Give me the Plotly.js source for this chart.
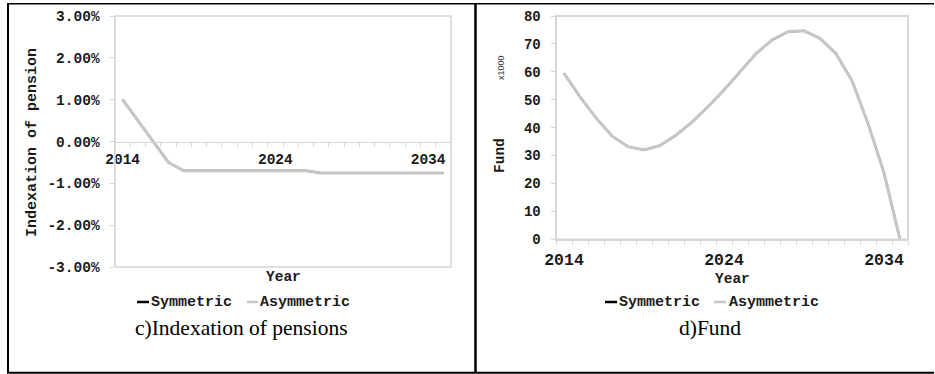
<!DOCTYPE html>
<html>
<head>
<meta charset="utf-8">
<script src="https://cdn.plot.ly/plotly-3.0.1.min.js"></script>
<style>html,body{margin:0;padding:0;background:#fff;}#chart{width:935px;height:374px;}</style>
</head>
<body>
<div id="chart"></div>
<script>
// ---- data ----
const years = [2014,2015,2016,2017,2018,2019,2020,2021,2022,2023,2024,2025,2026,2027,2028,2029,2030,2031,2032,2033,2034,2035];
const indexSymmetric  = [0.0100,0.0050,0.0000,-0.0050,-0.0070,-0.0070,-0.0070,-0.0070,-0.0070,-0.0070,-0.0070,-0.0070,-0.0070,-0.0075,-0.0075,-0.0075,-0.0075,-0.0075,-0.0075,-0.0075,-0.0075,-0.0075];
const indexAsymmetric = [0.0100,0.0050,0.0000,-0.0050,-0.0070,-0.0070,-0.0070,-0.0070,-0.0070,-0.0070,-0.0070,-0.0070,-0.0070,-0.0075,-0.0075,-0.0075,-0.0075,-0.0075,-0.0075,-0.0075,-0.0075,-0.0075];
const fundSymmetric  = [59.5,51.0,43.5,37.0,33.2,32.0,33.6,37.3,42.0,47.5,53.5,60.0,66.5,71.4,74.4,74.7,72.0,66.5,56.8,41.5,23.8,0.0];
const fundAsymmetric = [59.5,51.0,43.5,37.0,33.2,32.0,33.6,37.3,42.0,47.5,53.5,60.0,66.5,71.4,74.4,74.7,72.0,66.5,56.8,41.5,23.8,0.0];
const xTickVals = [2014,2024,2034];
const xTickText = ['2014','2024','2034'];
const idxTickVals = [-0.03,-0.02,-0.01,0,0.01,0.02,0.03];
const idxTickText = ['-3.00%','-2.00%','-1.00%','0.00%','1.00%','2.00%','3.00%'];
const fundTickVals = [0,10,20,30,40,50,60,70,80];
const seriesNames = ['Symmetric','Asymmetric'];

// ---- styling ----
const W = 935, H = 374;
const px = v => v / W, py = v => 1 - v / H;
const MONO = 'Liberation Mono, Courier New, monospace';
const SERIF = 'Liberation Serif, Times New Roman, serif';
const TXT = '#1a1a1a';
const AX = '#d6d6d6';
const GRAY = '#c6c6c6';

const traces = [
  {x: years, y: indexSymmetric, name: seriesNames[0], type: 'scatter', mode: 'lines', xaxis: 'x', yaxis: 'y', line: {color: '#000', width: 2}, showlegend: false},
  {x: years, y: indexAsymmetric, name: seriesNames[1], type: 'scatter', mode: 'lines', xaxis: 'x', yaxis: 'y', line: {color: GRAY, width: 3}, showlegend: false},
  {x: years, y: fundSymmetric, name: seriesNames[0], type: 'scatter', mode: 'lines', xaxis: 'x2', yaxis: 'y2', line: {color: '#000', width: 2}, showlegend: false},
  {x: years, y: fundAsymmetric, name: seriesNames[1], type: 'scatter', mode: 'lines', xaxis: 'x2', yaxis: 'y2', line: {color: GRAY, width: 3}, showlegend: false}
];

const lDom = [px(115), px(451)], lY = [py(267), py(16)];
const rDom = [px(556), px(908)], rY = [py(239.3), py(16)];

function xAxis(dom, extra) {
  return Object.assign({
    domain: dom, range: [2013.5, 2035.5], tickmode: 'array', tickvals: xTickVals, ticktext: xTickText,
    ticks: '', showgrid: false, zeroline: false, showline: true, linecolor: AX, linewidth: 1.5,
    tickfont: {family: MONO, size: 14.5, color: TXT, weight: 'bold'},
    minor: {dtick: 1, tick0: 2013.5, ticks: 'outside', ticklen: 4, tickcolor: AX, tickwidth: 1, showgrid: false},
    fixedrange: true
  }, extra);
}

const layout = {
  width: W, height: H, margin: {l: 0, r: 0, t: 0, b: 0},
  paper_bgcolor: '#fff', plot_bgcolor: 'rgba(0,0,0,0)', showlegend: false,
  xaxis: xAxis(lDom, {anchor: 'free', position: (lY[0] + lY[1]) / 2, ticklabelstandoff: 4}),
  yaxis: {
    domain: lY, range: [-0.03, 0.03], tickmode: 'array', tickvals: idxTickVals, ticktext: idxTickText,
    ticks: 'outside', ticklen: 4, tickcolor: AX, showgrid: false, zeroline: false,
    showline: true, linecolor: AX, linewidth: 1.5, ticklabelstandoff: 7,
    tickfont: {family: MONO, size: 14.5, color: TXT, weight: 'bold'}, fixedrange: true
  },
  xaxis2: xAxis(rDom, {anchor: 'y2', ticklabelstandoff: 4, tickfont: {family: MONO, size: 16.5, color: TXT, weight: 'bold'}}),
  yaxis2: {
    domain: rY, range: [0, 80], tickmode: 'array', tickvals: fundTickVals,
    ticks: 'outside', ticklen: 4, tickcolor: AX, showgrid: false, zeroline: false,
    showline: true, linecolor: AX, linewidth: 1.5, ticklabelstandoff: 7,
    tickfont: {family: MONO, size: 14, color: TXT, weight: 'bold'}, anchor: 'x2', fixedrange: true
  },
  shapes: [
    // plot area frames
    {type: 'rect', xref: 'x domain', yref: 'y domain', x0: 0, x1: 1, y0: 0, y1: 1, line: {color: AX, width: 1.5}},
    {type: 'rect', xref: 'x2 domain', yref: 'y2 domain', x0: 0, x1: 1, y0: 0, y1: 1, line: {color: AX, width: 1.8}},
    // table borders
    {type: 'line', xref: 'paper', yref: 'paper', x0: px(7), x1: px(934), y0: py(3.8), y1: py(3.8), line: {color: '#000', width: 1.5}},
    {type: 'line', xref: 'paper', yref: 'paper', x0: px(8), x1: px(8), y0: py(3.5), y1: py(373), line: {color: '#000', width: 2}},
    {type: 'line', xref: 'paper', yref: 'paper', x0: px(7), x1: px(934), y0: py(372.8), y1: py(372.8), line: {color: '#000', width: 2}},
    {type: 'line', xref: 'paper', yref: 'paper', x0: px(475.5), x1: px(475.5), y0: py(3.5), y1: py(373), line: {color: '#000', width: 2.5}},
    // legend keys
    {type: 'line', xref: 'paper', yref: 'paper', x0: px(137), x1: px(149), y0: py(302), y1: py(302), line: {color: '#000', width: 2.5}},
    {type: 'line', xref: 'paper', yref: 'paper', x0: px(247), x1: px(258), y0: py(302), y1: py(302), line: {color: GRAY, width: 2.5}},
    {type: 'line', xref: 'paper', yref: 'paper', x0: px(605), x1: px(617), y0: py(302), y1: py(302), line: {color: '#000', width: 2.5}},
    {type: 'line', xref: 'paper', yref: 'paper', x0: px(714), x1: px(726), y0: py(302), y1: py(302), line: {color: GRAY, width: 2.5}}
  ],
  annotations: [
    {xref: 'paper', yref: 'paper', x: px(32), y: py(143), text: 'Indexation of pension', textangle: -90, showarrow: false, xanchor: 'center', yanchor: 'middle', font: {family: MONO, size: 15, color: TXT, weight: 'bold'}},
    {xref: 'paper', yref: 'paper', x: px(283), y: py(277), text: 'Year', showarrow: false, xanchor: 'center', yanchor: 'middle', font: {family: MONO, size: 14.5, color: TXT, weight: 'bold'}},
    {xref: 'paper', yref: 'paper', x: px(149), y: py(302), text: seriesNames[0], showarrow: false, xanchor: 'left', yanchor: 'middle', font: {family: MONO, size: 15, color: TXT, weight: 'bold'}},
    {xref: 'paper', yref: 'paper', x: px(258), y: py(302), text: seriesNames[1], showarrow: false, xanchor: 'left', yanchor: 'middle', font: {family: MONO, size: 15, color: TXT, weight: 'bold'}},
    {xref: 'paper', yref: 'paper', x: px(241), y: py(328), text: 'c)Indexation of pensions', showarrow: false, xanchor: 'center', yanchor: 'middle', font: {family: SERIF, size: 21.5, color: '#000'}},

    {xref: 'paper', yref: 'paper', x: px(500), y: py(156), text: 'Fund', textangle: -90, showarrow: false, xanchor: 'center', yanchor: 'middle', font: {family: MONO, size: 14.5, color: TXT, weight: 'bold'}},
    {xref: 'paper', yref: 'paper', x: px(501), y: py(68), text: 'x1000', textangle: -90, showarrow: false, xanchor: 'center', yanchor: 'middle', font: {family: 'Liberation Sans, Arial, sans-serif', size: 9, color: '#333'}},
    {xref: 'paper', yref: 'paper', x: px(732), y: py(279), text: 'Year', showarrow: false, xanchor: 'center', yanchor: 'middle', font: {family: MONO, size: 14.5, color: TXT, weight: 'bold'}},
    {xref: 'paper', yref: 'paper', x: px(617), y: py(302), text: seriesNames[0], showarrow: false, xanchor: 'left', yanchor: 'middle', font: {family: MONO, size: 15, color: TXT, weight: 'bold'}},
    {xref: 'paper', yref: 'paper', x: px(727), y: py(302), text: seriesNames[1], showarrow: false, xanchor: 'left', yanchor: 'middle', font: {family: MONO, size: 15, color: TXT, weight: 'bold'}},
    {xref: 'paper', yref: 'paper', x: px(710), y: py(328), text: 'd)Fund', showarrow: false, xanchor: 'center', yanchor: 'middle', font: {family: SERIF, size: 21.5, color: '#000'}}
  ]
};

Plotly.newPlot('chart', traces, layout, {staticPlot: true, displayModeBar: false});
</script>
</body>
</html>
